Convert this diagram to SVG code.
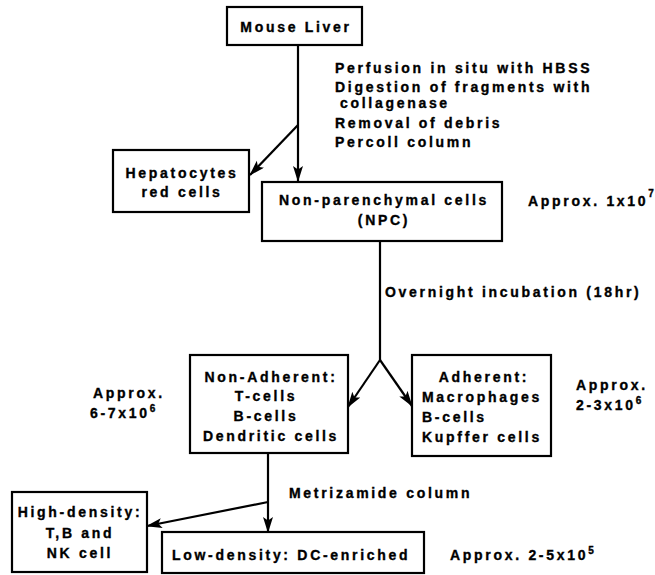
<svg xmlns="http://www.w3.org/2000/svg" width="655" height="575" viewBox="0 0 655 575">
<style>
  .box { fill: #fff; stroke: #000; stroke-width: 2.2; }
  text { font-family: "Liberation Sans", Arial, sans-serif; font-weight: bold; font-size: 14px; letter-spacing: 2.7px; fill: #000; stroke: #000; stroke-width: 0.35; }
  .c { text-anchor: middle; }
  .sup { font-size: 10px; letter-spacing: 0; }
  .ln { stroke: #000; stroke-width: 2.2; fill: none; }
</style>
<defs>
  <marker id="ah" markerUnits="userSpaceOnUse" markerWidth="17" markerHeight="12" refX="15" refY="5" orient="auto">
    <path d="M0,0 L16,5 L0,10 L3.5,5 z" fill="#000"/>
  </marker>
</defs>
<rect width="655" height="575" fill="#fff"/>

<g id="connectors">
  <line class="ln" x1="298" y1="45" x2="298" y2="181" marker-end="url(#ah)"/>
  <line class="ln" x1="298" y1="125" x2="250" y2="175" marker-end="url(#ah)"/>
  <line class="ln" x1="380" y1="241" x2="380" y2="360"/>
  <line class="ln" x1="380" y1="360" x2="348" y2="407" marker-end="url(#ah)"/>
  <line class="ln" x1="380" y1="360" x2="412" y2="406" marker-end="url(#ah)"/>
  <line class="ln" x1="268" y1="453" x2="268" y2="532" marker-end="url(#ah)"/>
  <line class="ln" x1="268" y1="502" x2="147" y2="526" marker-end="url(#ah)"/>
</g>

<g id="mouse-liver">
  <rect class="box" x="227" y="7" width="135" height="38"/>
  <text class="c" x="296" y="32">Mouse Liver</text>
</g>

<g id="hepatocytes">
  <rect class="box" x="113" y="150" width="136" height="62"/>
  <text class="c" x="182" y="178">Hepatocytes</text>
  <text class="c" x="182" y="197">red cells</text>
</g>

<g id="npc">
  <rect class="box" x="262" y="182" width="240" height="59"/>
  <text class="c" x="384" y="205">Non-parenchymal cells</text>
  <text class="c" x="384" y="225">(NPC)</text>
</g>

<g id="non-adherent">
  <rect class="box" x="190" y="355" width="158" height="98"/>
  <text class="c" x="271" y="382">Non-Adherent:</text>
  <text class="c" x="266" y="401">T-cells</text>
  <text class="c" x="266" y="421">B-cells</text>
  <text class="c" x="271" y="441">Dendritic cells</text>
</g>

<g id="adherent">
  <rect class="box" x="412" y="355" width="139" height="101"/>
  <text class="c" x="484" y="382">Adherent:</text>
  <text x="422" y="402">Macrophages</text>
  <text x="422" y="422">B-cells</text>
  <text x="422" y="442">Kupffer cells</text>
</g>

<g id="high-density">
  <rect class="box" x="12" y="492" width="135" height="80"/>
  <text class="c" x="80" y="517">High-density:</text>
  <text class="c" x="80" y="538">T,B and</text>
  <text class="c" x="80" y="558">NK cell</text>
</g>

<g id="low-density">
  <rect class="box" x="162" y="532" width="262" height="41"/>
  <text x="172" y="560">Low-density: DC-enriched</text>
</g>

<g id="annotations">
  <text x="335" y="73">Perfusion in situ with HBSS</text>
  <text x="335" y="92">Digestion of fragments with</text>
  <text x="340" y="108">collagenase</text>
  <text x="335" y="128">Removal of debris</text>
  <text x="335" y="147">Percoll column</text>
  <text x="528" y="206">Approx. 1x10<tspan class="sup" dy="-9">7</tspan></text>
  <text x="385" y="297">Overnight incubation (18hr)</text>
  <text x="93" y="398">Approx.</text>
  <text x="90" y="418">6-7x10<tspan class="sup" dy="-6">6</tspan></text>
  <text x="576" y="390">Approx.</text>
  <text x="576" y="410">2-3x10<tspan class="sup" dy="-6">6</tspan></text>
  <text x="289" y="498">Metrizamide column</text>
  <text x="450" y="560">Approx. 2-5x10<tspan class="sup" dy="-6">5</tspan></text>
</g>
</svg>
